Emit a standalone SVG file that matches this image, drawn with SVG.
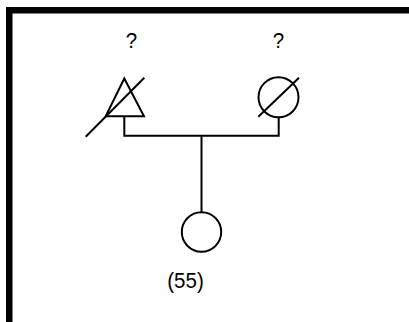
<svg xmlns="http://www.w3.org/2000/svg" width="409" height="322" viewBox="0 0 409 322">
<style>
.s{fill:none;stroke:#000;stroke-width:2}
.t{font-family:"Liberation Sans",Arial,sans-serif;font-size:20.5px;fill:#000;text-anchor:middle}
</style>
<rect width="409" height="322" fill="#fff"/>
<g id="frame">
<rect x="6" y="7" width="403" height="6.5" fill="#000"/>
<rect x="6" y="7" width="6.5" height="315" fill="#000"/>
</g>
<g id="connectors">
<path class="s" d="M124.3 116.3V135.7H278.7V117.3"/>
<path class="s" d="M201.5 135.7V212.3"/>
</g>
<g id="father">
<polygon class="s" points="124.3,78.5 105.7,116.3 144,116.3"/>
<line class="s" x1="85.7" y1="136.7" x2="144.3" y2="77.7"/>
<text class="t" transform="translate(131.5 47.5) scale(1 1.12)">?</text>
</g>
<g id="mother">
<circle class="s" cx="278.5" cy="97.3" r="20"/>
<line class="s" x1="258.3" y1="116.7" x2="299" y2="77.7"/>
<text class="t" transform="translate(278.5 47.5) scale(1 1.12)">?</text>
</g>
<g id="child">
<circle class="s" cx="201.5" cy="232" r="19.7"/>
<text class="t" transform="translate(185.5 288) scale(1 1.08)">(55)</text>
</g>
</svg>
